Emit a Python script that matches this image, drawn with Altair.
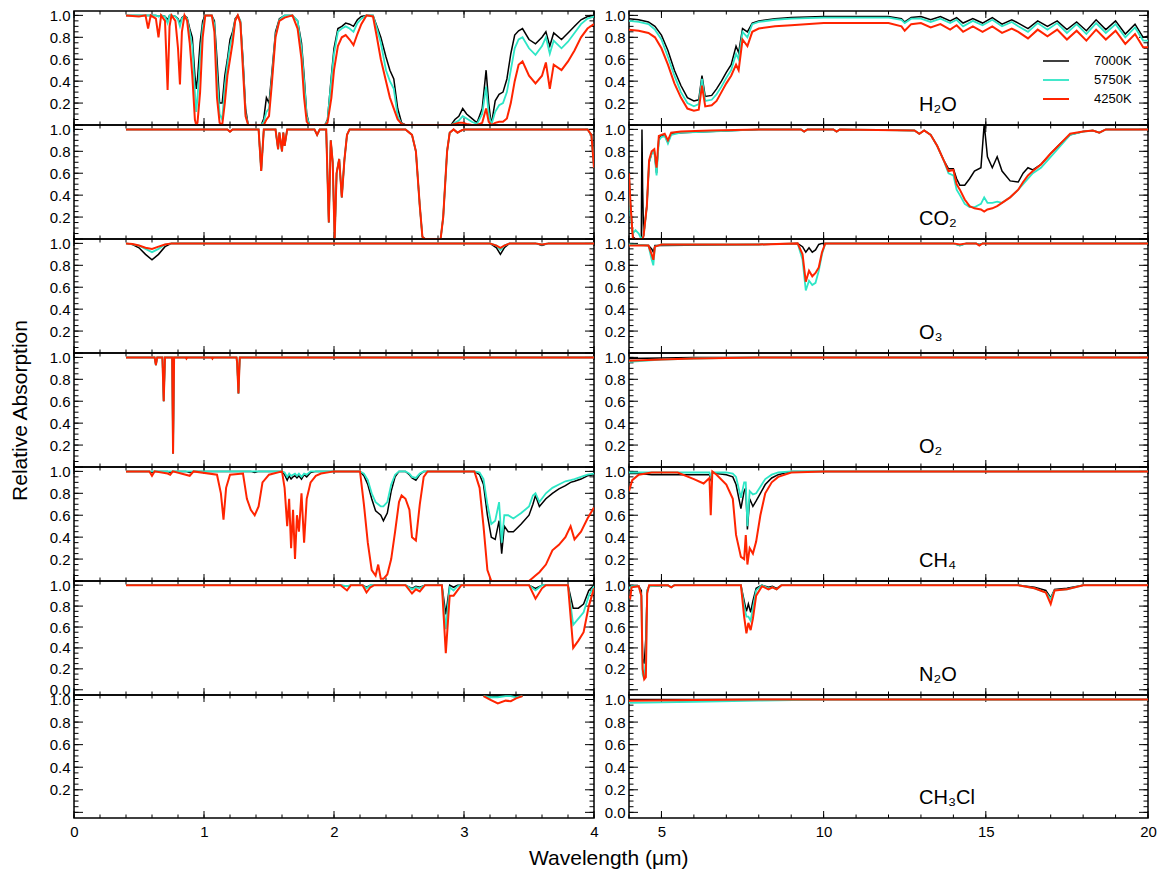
import altair as alt
import numpy as np
import pandas as pd

FONT = "Liberation Sans"
SERIES = ["7000K", "5750K", "4250K"]
COLORS = ["#000000", "#2ee6c6", "#ff2400"]
WIDTHS = [1.5, 1.8, 2.0]
MOLECULES = ["H₂O", "CO₂", "O₃", "O₂", "CH₄", "N₂O", "CH₃Cl"]

# Rows: wavelength (µm), 7000K, 5750K, 4250K
H2O_NEAR = [
    (0.40, 1.00, 1.00, 1.00), (0.50, 1.00, 1.00, 0.99), (0.55, 1.00, 1.00, 1.00),
    (0.57, 1.00, 1.00, 0.88), (0.59, 1.00, 1.00, 1.00), (0.63, 1.00, 1.00, 0.97),
    (0.65, 0.99, 0.99, 0.80), (0.67, 1.00, 1.00, 1.00), (0.70, 0.99, 0.99, 0.95),
    (0.72, 0.96, 0.93, 0.32), (0.735, 1.00, 1.00, 0.90), (0.75, 1.00, 1.00, 1.00),
    (0.78, 0.99, 0.99, 0.95), (0.80, 0.97, 0.96, 0.70), (0.815, 0.93, 0.90, 0.37),
    (0.83, 0.98, 0.97, 0.85), (0.85, 1.00, 1.00, 1.00), (0.87, 0.98, 0.97, 0.95),
    (0.89, 0.88, 0.85, 0.75), (0.91, 0.80, 0.72, 0.45), (0.93, 0.45, 0.30, 0.05),
    (0.94, 0.33, 0.12, 0.00), (0.95, 0.42, 0.25, 0.02), (0.97, 0.75, 0.60, 0.30),
    (0.99, 0.95, 0.90, 0.80), (1.01, 1.00, 1.00, 1.00), (1.06, 1.00, 1.00, 1.00),
    (1.08, 0.95, 0.92, 0.85), (1.10, 0.60, 0.45, 0.25), (1.12, 0.20, 0.10, 0.02),
    (1.14, 0.20, 0.05, 0.00), (1.16, 0.45, 0.35, 0.20), (1.18, 0.60, 0.55, 0.45),
    (1.20, 0.78, 0.72, 0.60), (1.22, 0.85, 0.82, 0.75), (1.24, 0.97, 0.96, 0.95),
    (1.26, 1.00, 1.00, 1.00), (1.28, 0.95, 0.95, 0.93), (1.30, 0.60, 0.55, 0.50),
    (1.32, 0.15, 0.10, 0.08), (1.34, 0.00, 0.00, 0.00), (1.44, 0.00, 0.00, 0.00),
    (1.46, 0.06, 0.03, 0.00), (1.48, 0.25, 0.12, 0.05), (1.50, 0.20, 0.15, 0.08),
    (1.52, 0.45, 0.40, 0.35), (1.55, 0.85, 0.82, 0.80), (1.58, 0.97, 0.96, 0.95),
    (1.62, 1.00, 1.00, 0.98), (1.68, 1.00, 1.00, 1.00), (1.72, 0.95, 0.95, 0.88),
    (1.75, 0.75, 0.70, 0.60), (1.77, 0.45, 0.40, 0.25), (1.79, 0.10, 0.08, 0.03),
    (1.81, 0.00, 0.00, 0.00), (1.93, 0.00, 0.00, 0.00), (1.95, 0.05, 0.04, 0.02),
    (1.98, 0.45, 0.42, 0.25), (2.00, 0.70, 0.65, 0.50), (2.03, 0.88, 0.85, 0.72),
    (2.06, 0.90, 0.88, 0.80), (2.09, 0.93, 0.90, 0.82), (2.12, 0.92, 0.88, 0.78),
    (2.15, 0.90, 0.85, 0.73), (2.18, 0.96, 0.93, 0.83), (2.21, 0.99, 0.97, 0.92),
    (2.25, 1.00, 1.00, 1.00), (2.30, 1.00, 1.00, 0.99), (2.33, 0.90, 0.88, 0.80),
    (2.36, 0.80, 0.75, 0.60), (2.40, 0.62, 0.50, 0.40), (2.43, 0.50, 0.40, 0.25),
    (2.46, 0.42, 0.33, 0.15), (2.49, 0.15, 0.08, 0.05), (2.52, 0.02, 0.01, 0.01),
    (2.55, 0.00, 0.00, 0.00), (2.90, 0.00, 0.00, 0.00), (2.93, 0.05, 0.02, 0.01),
    (2.96, 0.08, 0.04, 0.02), (2.99, 0.15, 0.08, 0.02), (3.02, 0.10, 0.06, 0.01),
    (3.06, 0.06, 0.03, 0.00), (3.10, 0.02, 0.01, 0.00), (3.14, 0.15, 0.10, 0.02),
    (3.17, 0.50, 0.35, 0.15), (3.19, 0.20, 0.10, 0.03), (3.21, 0.00, 0.00, 0.00),
    (3.24, 0.22, 0.12, 0.02), (3.27, 0.28, 0.18, 0.03), (3.30, 0.30, 0.20, 0.03),
    (3.33, 0.42, 0.30, 0.06), (3.36, 0.65, 0.50, 0.20), (3.39, 0.82, 0.70, 0.40),
    (3.42, 0.86, 0.78, 0.55), (3.45, 0.88, 0.80, 0.58), (3.50, 0.78, 0.70, 0.45),
    (3.55, 0.74, 0.64, 0.38), (3.60, 0.80, 0.72, 0.45), (3.63, 0.85, 0.80, 0.57),
    (3.66, 0.72, 0.65, 0.33), (3.69, 0.84, 0.77, 0.55), (3.75, 0.78, 0.70, 0.50),
    (3.80, 0.84, 0.76, 0.58), (3.85, 0.90, 0.84, 0.68), (3.90, 0.96, 0.92, 0.80),
    (3.95, 0.99, 0.97, 0.88), (4.00, 1.00, 0.99, 0.92),
]
H2O_MID = [
    (4.0, 0.97, 0.95, 0.87), (4.3, 0.96, 0.94, 0.86), (4.6, 0.94, 0.92, 0.84),
    (4.8, 0.90, 0.87, 0.80), (5.0, 0.82, 0.78, 0.70), (5.2, 0.68, 0.62, 0.55),
    (5.4, 0.50, 0.45, 0.38), (5.6, 0.36, 0.30, 0.25), (5.8, 0.25, 0.20, 0.15),
    (6.0, 0.22, 0.17, 0.13), (6.15, 0.23, 0.19, 0.14), (6.25, 0.45, 0.42, 0.36),
    (6.35, 0.26, 0.22, 0.17), (6.55, 0.27, 0.23, 0.18), (6.7, 0.33, 0.28, 0.22),
    (6.85, 0.40, 0.35, 0.30), (7.0, 0.48, 0.43, 0.38), (7.15, 0.55, 0.50, 0.45),
    (7.3, 0.72, 0.65, 0.55), (7.38, 0.66, 0.60, 0.50), (7.5, 0.88, 0.85, 0.78),
    (7.65, 0.85, 0.80, 0.72), (7.8, 0.93, 0.92, 0.85), (8.0, 0.95, 0.94, 0.88),
    (8.5, 0.97, 0.96, 0.90), (9.0, 0.98, 0.97, 0.91), (10.0, 0.99, 0.98, 0.93),
    (11.0, 0.99, 0.98, 0.93), (12.0, 0.99, 0.98, 0.93), (12.4, 0.97, 0.96, 0.90),
    (12.5, 0.94, 0.93, 0.86), (12.7, 0.98, 0.97, 0.92), (13.0, 0.99, 0.97, 0.93),
    (13.3, 0.96, 0.94, 0.89), (13.6, 0.99, 0.97, 0.92), (13.9, 0.95, 0.93, 0.87),
    (14.1, 0.98, 0.96, 0.91), (14.3, 0.93, 0.90, 0.85), (14.6, 0.97, 0.95, 0.90),
    (14.9, 0.93, 0.91, 0.85), (15.2, 0.98, 0.96, 0.90), (15.5, 0.92, 0.90, 0.84),
    (15.8, 0.96, 0.94, 0.88), (16.0, 0.93, 0.90, 0.85), (16.3, 0.88, 0.85, 0.79),
    (16.6, 0.95, 0.93, 0.87), (16.9, 0.90, 0.87, 0.81), (17.2, 0.95, 0.93, 0.87),
    (17.5, 0.87, 0.84, 0.78), (17.8, 0.94, 0.92, 0.86), (18.1, 0.86, 0.83, 0.77),
    (18.4, 0.96, 0.93, 0.87), (18.7, 0.87, 0.84, 0.78), (19.0, 0.95, 0.92, 0.86),
    (19.3, 0.83, 0.80, 0.74), (19.6, 0.92, 0.89, 0.83), (19.85, 0.80, 0.77, 0.71),
    (20.0, 0.81, 0.77, 0.71),
]
CO2_NEAR = [
    (0.40, 1.00, 1.00, 1.00), (1.18, 1.00, 1.00, 1.00), (1.20, 0.98, 0.98, 0.98),
    (1.22, 1.00, 1.00, 1.00), (1.42, 1.00, 1.00, 1.00), (1.44, 0.62, 0.62, 0.62),
    (1.46, 1.00, 1.00, 1.00), (1.55, 1.00, 1.00, 1.00), (1.57, 0.82, 0.82, 0.82),
    (1.58, 0.97, 0.97, 0.97), (1.60, 0.80, 0.80, 0.80), (1.61, 0.97, 0.97, 0.97),
    (1.62, 0.85, 0.85, 0.85), (1.64, 1.00, 1.00, 1.00), (1.85, 1.00, 1.00, 1.00),
    (1.87, 0.95, 0.95, 0.95), (1.89, 1.00, 1.00, 1.00), (1.94, 1.00, 1.00, 1.00),
    (1.96, 0.15, 0.15, 0.15), (1.975, 0.90, 0.90, 0.90), (1.99, 0.70, 0.70, 0.70),
    (2.005, 0.00, 0.00, 0.00), (2.02, 0.60, 0.60, 0.60), (2.04, 0.73, 0.73, 0.73),
    (2.06, 0.38, 0.38, 0.38), (2.08, 0.72, 0.72, 0.72), (2.10, 0.95, 0.95, 0.95),
    (2.12, 1.00, 1.00, 1.00), (2.55, 1.00, 1.00, 1.00), (2.60, 0.95, 0.95, 0.95),
    (2.63, 0.80, 0.80, 0.80), (2.66, 0.30, 0.30, 0.30), (2.68, 0.02, 0.02, 0.02),
    (2.70, 0.00, 0.00, 0.00), (2.82, 0.00, 0.00, 0.00), (2.84, 0.20, 0.20, 0.20),
    (2.87, 0.80, 0.80, 0.80), (2.89, 0.97, 0.97, 0.97), (2.92, 1.00, 1.00, 1.00),
    (2.95, 0.97, 0.97, 0.97), (2.98, 0.99, 0.99, 0.99), (3.00, 1.00, 1.00, 1.00),
    (3.95, 1.00, 1.00, 1.00), (3.98, 0.95, 0.95, 0.95), (4.00, 0.65, 0.65, 0.65),
]
CO2_MID = [
    (4.00, 0.60, 0.55, 0.60), (4.05, 0.30, 0.20, 0.30), (4.12, 0.02, 0.05, 0.00),
    (4.20, 0.00, 0.08, 0.00), (4.30, 0.00, 0.05, 0.00), (4.38, 0.00, 0.00, 0.00),
    (4.40, 1.00, 0.00, 0.00), (4.42, 0.47, 0.02, 0.00), (4.45, 0.03, 0.03, 0.03),
    (4.55, 0.30, 0.30, 0.30), (4.62, 0.70, 0.70, 0.72), (4.70, 0.78, 0.78, 0.80),
    (4.78, 0.80, 0.80, 0.82), (4.85, 0.60, 0.58, 0.65), (4.92, 0.92, 0.90, 0.94),
    (5.00, 0.94, 0.93, 0.95), (5.10, 0.95, 0.94, 0.96), (5.20, 0.88, 0.87, 0.90),
    (5.30, 0.96, 0.95, 0.97), (5.60, 0.97, 0.97, 0.98), (6.50, 0.98, 0.98, 0.99),
    (8.00, 1.00, 1.00, 1.00), (9.30, 1.00, 1.00, 1.00), (9.40, 0.98, 0.98, 0.98),
    (9.50, 1.00, 1.00, 1.00), (10.3, 1.00, 1.00, 1.00), (10.4, 0.98, 0.98, 0.98),
    (10.5, 1.00, 1.00, 1.00), (12.8, 0.99, 0.99, 0.99), (12.95, 0.96, 0.96, 0.96),
    (13.1, 0.99, 0.99, 0.99), (13.3, 0.95, 0.95, 0.95), (13.5, 0.85, 0.85, 0.85),
    (13.7, 0.72, 0.72, 0.72), (13.85, 0.64, 0.60, 0.62), (14.0, 0.64, 0.58, 0.63),
    (14.1, 0.55, 0.45, 0.50), (14.2, 0.49, 0.40, 0.45), (14.35, 0.49, 0.32, 0.36),
    (14.5, 0.55, 0.29, 0.30), (14.65, 0.62, 0.29, 0.28), (14.85, 0.65, 0.32, 0.27),
    (14.95, 1.05, 0.38, 0.25), (15.05, 0.75, 0.33, 0.27), (15.2, 0.65, 0.33, 0.28),
    (15.35, 0.75, 0.34, 0.30), (15.5, 0.62, 0.33, 0.33), (15.75, 0.53, 0.38, 0.38),
    (16.0, 0.52, 0.45, 0.45), (16.15, 0.60, 0.50, 0.52), (16.3, 0.65, 0.55, 0.58),
    (16.45, 0.63, 0.60, 0.62), (16.7, 0.68, 0.65, 0.68), (17.0, 0.78, 0.75, 0.78),
    (17.3, 0.87, 0.85, 0.87), (17.6, 0.95, 0.95, 0.96), (18.0, 0.98, 0.98, 0.98),
    (18.3, 0.99, 0.99, 0.99), (18.5, 0.97, 0.97, 0.97), (18.7, 1.00, 1.00, 1.00),
    (20.0, 1.00, 1.00, 1.00),
]
O3_NEAR = [
    (0.40, 1.00, 1.00, 1.00), (0.45, 0.99, 0.99, 0.995), (0.50, 0.96, 0.98, 0.98),
    (0.55, 0.90, 0.95, 0.96), (0.60, 0.85, 0.92, 0.95), (0.65, 0.90, 0.95, 0.97),
    (0.70, 0.97, 0.99, 0.99), (0.75, 1.00, 1.00, 1.00), (3.20, 1.00, 1.00, 1.00),
    (3.25, 0.96, 0.98, 0.98), (3.28, 0.90, 0.94, 0.96), (3.31, 0.96, 0.98, 0.98),
    (3.35, 1.00, 1.00, 1.00), (3.55, 1.00, 1.00, 1.00), (3.60, 0.98, 0.99, 0.99),
    (3.65, 1.00, 1.00, 1.00), (4.00, 1.00, 1.00, 1.00),
]
O3_MID = [
    (4.0, 0.99, 0.99, 0.98), (4.6, 0.98, 0.98, 0.98), (4.7, 0.95, 0.85, 0.90),
    (4.75, 0.92, 0.80, 0.85), (4.8, 0.98, 0.97, 0.97), (5.0, 0.98, 0.99, 0.99),
    (8.0, 0.99, 0.99, 0.99), (9.2, 1.00, 1.00, 1.00), (9.35, 0.97, 0.85, 0.90),
    (9.45, 0.92, 0.57, 0.65), (9.55, 0.96, 0.66, 0.75), (9.65, 0.92, 0.62, 0.70),
    (9.75, 0.94, 0.64, 0.73), (9.85, 0.99, 0.75, 0.78), (9.95, 1.00, 0.90, 0.92),
    (10.05, 1.00, 1.00, 1.00), (14.0, 1.00, 1.00, 1.00), (14.2, 0.98, 0.98, 0.99),
    (14.4, 1.00, 1.00, 1.00), (14.7, 1.00, 1.00, 1.00), (14.8, 0.99, 0.985, 0.98),
    (14.9, 1.00, 1.00, 1.00), (20.0, 1.00, 1.00, 1.00),
]
O2_NEAR = [
    (0.40, 1.00, 1.00, 1.00), (0.62, 1.00, 1.00, 1.00), (0.63, 0.93, 0.93, 0.93),
    (0.64, 1.00, 1.00, 1.00), (0.68, 1.00, 1.00, 1.00), (0.69, 0.60, 0.60, 0.60),
    (0.70, 1.00, 1.00, 1.00), (0.755, 1.00, 1.00, 1.00), (0.762, 0.12, 0.12, 0.12),
    (0.77, 1.00, 1.00, 1.00), (0.86, 1.00, 1.00, 1.00), (0.865, 0.99, 0.99, 0.99),
    (0.87, 1.00, 1.00, 1.00), (1.06, 1.00, 1.00, 1.00), (1.065, 0.99, 0.99, 0.99),
    (1.07, 1.00, 1.00, 1.00), (1.25, 1.00, 1.00, 1.00), (1.255, 0.95, 0.95, 0.95),
    (1.265, 0.67, 0.67, 0.67), (1.275, 1.00, 1.00, 1.00), (4.00, 1.00, 1.00, 1.00),
]
O2_MID = [
    (4.0, 0.99, 0.96, 0.97), (5.0, 0.995, 0.98, 0.98), (6.0, 1.00, 0.99, 0.99),
    (8.0, 1.00, 1.00, 1.00), (20.0, 1.00, 1.00, 1.00),
]
CH4_NEAR = [
    (0.40, 1.00, 1.00, 1.00), (0.58, 1.00, 1.00, 1.00), (0.60, 0.99, 1.00, 0.96),
    (0.62, 1.00, 1.00, 1.00), (0.72, 1.00, 1.00, 0.98), (0.74, 0.99, 1.00, 0.97),
    (0.76, 1.00, 1.00, 1.00), (0.86, 1.00, 1.00, 0.97), (0.89, 0.99, 1.00, 0.96),
    (0.92, 1.00, 1.00, 1.00), (1.10, 1.00, 1.00, 0.97), (1.13, 1.00, 1.00, 0.80),
    (1.15, 1.00, 1.00, 0.56), (1.17, 1.00, 1.00, 0.85), (1.20, 1.00, 1.00, 0.97),
    (1.30, 1.00, 1.00, 0.98), (1.33, 1.00, 1.00, 0.75), (1.36, 1.00, 1.00, 0.65),
    (1.39, 0.99, 1.00, 0.60), (1.42, 1.00, 1.00, 0.68), (1.45, 1.00, 1.00, 0.90),
    (1.50, 1.00, 1.00, 0.97), (1.60, 1.00, 1.00, 1.00), (1.62, 0.97, 0.99, 0.85),
    (1.64, 0.92, 0.95, 0.50), (1.655, 0.96, 0.98, 0.75), (1.67, 0.93, 0.96, 0.30),
    (1.685, 0.95, 0.97, 0.65), (1.70, 0.96, 0.98, 0.20), (1.715, 0.94, 0.96, 0.60),
    (1.73, 0.96, 0.98, 0.45), (1.75, 0.93, 0.95, 0.80), (1.77, 0.97, 0.98, 0.35),
    (1.79, 0.95, 0.97, 0.75), (1.82, 0.99, 1.00, 0.90), (1.86, 1.00, 1.00, 0.96),
    (1.90, 1.00, 1.00, 0.98), (2.00, 1.00, 1.00, 1.00), (2.20, 1.00, 1.00, 1.00),
    (2.23, 0.96, 0.98, 0.70), (2.26, 0.88, 0.92, 0.35), (2.29, 0.75, 0.80, 0.10),
    (2.32, 0.64, 0.72, 0.05), (2.34, 0.62, 0.70, 0.15), (2.36, 0.60, 0.68, 0.02),
    (2.38, 0.55, 0.68, 0.02), (2.41, 0.62, 0.72, 0.06), (2.44, 0.82, 0.88, 0.20),
    (2.47, 0.95, 0.97, 0.45), (2.50, 1.00, 1.00, 0.72), (2.52, 1.00, 1.00, 0.78),
    (2.55, 1.00, 1.00, 0.75), (2.58, 0.97, 0.98, 0.65), (2.60, 0.94, 0.95, 0.40),
    (2.63, 0.92, 0.94, 0.37), (2.66, 0.97, 0.98, 0.70), (2.69, 1.00, 1.00, 0.95),
    (2.72, 1.00, 1.00, 1.00), (3.08, 1.00, 1.00, 1.00), (3.12, 0.97, 0.99, 0.85),
    (3.15, 0.88, 0.93, 0.50), (3.18, 0.60, 0.70, 0.10), (3.21, 0.40, 0.52, 0.00),
    (3.24, 0.38, 0.55, 0.00), (3.27, 0.55, 0.72, 0.00), (3.29, 0.25, 0.35, 0.00),
    (3.31, 0.50, 0.60, 0.00), (3.34, 0.45, 0.60, 0.00), (3.38, 0.45, 0.57, 0.00),
    (3.44, 0.52, 0.62, 0.00), (3.50, 0.60, 0.68, 0.00), (3.53, 0.70, 0.78, 0.03),
    (3.55, 0.78, 0.80, 0.05), (3.58, 0.68, 0.72, 0.08), (3.63, 0.75, 0.80, 0.15),
    (3.68, 0.80, 0.85, 0.28), (3.73, 0.84, 0.88, 0.33), (3.78, 0.87, 0.91, 0.40),
    (3.82, 0.90, 0.92, 0.50), (3.85, 0.91, 0.93, 0.38), (3.90, 0.93, 0.95, 0.45),
    (3.95, 0.96, 0.97, 0.57), (4.00, 0.97, 0.98, 0.67),
]
CH4_MID = [
    (4.0, 0.98, 0.99, 0.82), (4.1, 0.98, 0.99, 0.92), (4.3, 0.98, 0.99, 0.97),
    (4.7, 0.97, 0.99, 0.99), (5.5, 0.97, 0.99, 0.99), (6.0, 0.97, 0.99, 0.93),
    (6.3, 0.97, 0.99, 0.89), (6.48, 0.97, 0.99, 0.94), (6.52, 0.93, 0.95, 0.60),
    (6.57, 0.99, 0.99, 1.00), (6.7, 0.98, 0.99, 0.97), (7.0, 0.97, 0.99, 0.88),
    (7.2, 0.95, 0.98, 0.75), (7.3, 0.88, 0.95, 0.42), (7.45, 0.66, 0.76, 0.22),
    (7.55, 0.82, 0.90, 0.20), (7.6, 0.85, 0.90, 0.42), (7.65, 0.47, 0.50, 0.15),
    (7.72, 0.75, 0.82, 0.30), (7.82, 0.68, 0.79, 0.25), (7.92, 0.73, 0.80, 0.36),
    (8.05, 0.80, 0.86, 0.60), (8.2, 0.88, 0.93, 0.80), (8.4, 0.94, 0.97, 0.90),
    (8.6, 0.97, 0.99, 0.95), (9.0, 1.00, 1.00, 0.99), (10.0, 1.00, 1.00, 1.00),
    (20.0, 1.00, 1.00, 1.00),
]
N2O_NEAR = [
    (0.40, 1.00, 1.00, 1.00), (2.05, 1.00, 1.00, 1.00), (2.10, 0.99, 0.99, 0.95),
    (2.13, 1.00, 1.00, 1.00), (2.22, 1.00, 1.00, 1.00), (2.25, 0.98, 0.97, 0.93),
    (2.28, 1.00, 1.00, 0.98), (2.31, 1.00, 1.00, 1.00), (2.55, 1.00, 1.00, 1.00),
    (2.60, 0.97, 0.96, 0.92), (2.63, 0.99, 0.98, 0.96), (2.66, 0.98, 0.97, 0.94),
    (2.70, 1.00, 1.00, 1.00), (2.83, 1.00, 1.00, 1.00), (2.86, 0.72, 0.58, 0.35),
    (2.89, 1.00, 0.98, 0.90), (2.92, 0.98, 0.95, 0.90), (2.95, 1.00, 0.99, 0.95),
    (2.98, 1.00, 1.00, 1.00), (3.50, 1.00, 1.00, 1.00), (3.55, 0.97, 0.95, 0.87),
    (3.60, 1.00, 1.00, 0.97), (3.63, 1.00, 1.00, 1.00), (3.80, 1.00, 1.00, 1.00),
    (3.84, 0.78, 0.62, 0.40), (3.88, 0.78, 0.68, 0.47), (3.92, 0.82, 0.74, 0.55),
    (3.96, 0.95, 0.90, 0.80), (4.00, 1.00, 0.99, 0.97),
]
N2O_MID = [
    (4.0, 0.97, 0.98, 0.90), (4.04, 0.98, 0.97, 0.88), (4.08, 0.99, 0.99, 0.98),
    (4.3, 0.99, 0.99, 0.99), (4.38, 0.95, 0.90, 0.90), (4.42, 0.30, 0.15, 0.20),
    (4.47, 0.25, 0.10, 0.10), (4.52, 0.50, 0.30, 0.12), (4.56, 0.95, 0.95, 0.92),
    (4.62, 0.99, 0.99, 1.00), (5.2, 1.00, 1.00, 1.00), (5.3, 0.98, 0.98, 0.98),
    (5.4, 1.00, 1.00, 1.00), (7.45, 1.00, 1.00, 1.00), (7.55, 0.85, 0.80, 0.70),
    (7.62, 0.75, 0.70, 0.54), (7.68, 0.82, 0.70, 0.64), (7.75, 0.74, 0.66, 0.57),
    (7.82, 0.85, 0.78, 0.68), (7.92, 0.97, 0.95, 0.90), (8.1, 1.00, 1.00, 0.99),
    (8.3, 0.98, 0.97, 0.96), (8.42, 0.99, 0.98, 0.98), (8.55, 0.97, 0.96, 0.96),
    (8.7, 1.00, 1.00, 1.00), (16.0, 1.00, 1.00, 1.00), (16.5, 0.98, 0.97, 0.97),
    (16.85, 0.95, 0.93, 0.93), (17.0, 0.88, 0.87, 0.82), (17.12, 0.96, 0.95, 0.95),
    (17.5, 0.97, 0.96, 0.96), (18.0, 1.00, 1.00, 1.00), (20.0, 1.00, 1.00, 1.00),
]
CH3CL_NEAR = [
    (3.15, 1.03, 1.03, 1.03), (3.20, 1.02, 1.02, 1.00), (3.26, 1.03, 1.02, 0.965),
    (3.32, 1.03, 1.03, 0.99), (3.36, 1.03, 1.03, 0.985), (3.40, 1.03, 1.02, 1.01),
    (3.45, 1.03, 1.03, 1.03),
]
CH3CL_MID = [
    (4.0, 1.00, 0.97, 0.99), (6.0, 1.00, 0.98, 0.995), (8.0, 1.00, 0.99, 1.00),
    (10.0, 1.00, 1.00, 1.00), (20.0, 1.00, 1.00, 1.00),
]

NEAR_ROWS = [H2O_NEAR, CO2_NEAR, O3_NEAR, O2_NEAR, CH4_NEAR, N2O_NEAR, CH3CL_NEAR]
MID_ROWS = [H2O_MID, CO2_MID, O3_MID, O2_MID, CH4_MID, N2O_MID, CH3CL_MID]

# Axis tick positions
X_NEAR_MAJOR = [0, 1, 2, 3, 4]
X_NEAR_MINOR = [round(v, 1) for v in np.arange(0.0, 4.01, 0.2)]
X_MID_MAJOR = [5, 10, 15, 20]
X_MID_MINOR = list(range(4, 21))
Y_MAJOR = [0.0, 0.2, 0.4, 0.6, 0.8, 1.0]
Y_MINOR = [round(v, 2) for v in np.arange(0.0, 1.001, 0.05)]

NEAR_W, MID_W = 520, 519
PANEL_H, LAST_H = 114, 123


def panel(rows, i, near):
    width = NEAR_W if near else MID_W
    height = LAST_H if i == 6 else PANEL_H
    ydom = [-0.05, 1.04] if i >= 5 else [0.0, 1.04]
    xs = alt.Scale(domain=[0, 4] if near else [4, 20], nice=False, zero=False)
    ys = alt.Scale(domain=ydom, nice=False, zero=False)

    if i == 6:
        xaxis = alt.Axis(values=X_NEAR_MAJOR if near else X_MID_MAJOR, format="d",
                         labelFlush=False, title=None, labelPadding=6)
    else:
        xaxis = None
    ylabels = [0.2, 0.4, 0.6, 0.8, 1.0]
    if (near and i == 5) or (not near and i == 6):
        ylabels = [0.0] + ylabels
    if near and i == 3:
        yaxis = alt.Axis(values=ylabels, format=".1f", labelFlush=False,
                         title="Relative Absorption", titlePadding=19)
    else:
        yaxis = alt.Axis(values=ylabels, format=".1f", labelFlush=False, title=None)

    def X(f):
        return alt.X(f, type="quantitative", scale=xs, axis=xaxis)

    def Y(f):
        return alt.Y(f, type="quantitative", scale=ys, axis=yaxis)

    layers = []
    # inward ticks on all four sides
    for vals, size in ((Y_MAJOR, 9), (Y_MINOR, 4.5)):
        d = pd.DataFrame({"t": vals})
        layers.append(alt.Chart(d).mark_rule(color="black", strokeWidth=1).encode(
            y=Y("t"), x=alt.value(0), x2=alt.value(size)))
        layers.append(alt.Chart(d).mark_rule(color="black", strokeWidth=1).encode(
            y=Y("t"), x=alt.value(width), x2=alt.value(width - size)))
    xmaj = X_NEAR_MAJOR if near else X_MID_MAJOR
    xmin = X_NEAR_MINOR if near else X_MID_MINOR
    for vals, size in ((xmaj, 7), (xmin, 3.5)):
        d = pd.DataFrame({"t": vals})
        layers.append(alt.Chart(d).mark_rule(color="black", strokeWidth=1).encode(
            x=X("t"), y=alt.value(0), y2=alt.value(size)))
        layers.append(alt.Chart(d).mark_rule(color="black", strokeWidth=1).encode(
            x=X("t"), y=alt.value(height), y2=alt.value(height - size)))

    # spectra, drawn hottest star first so the cooler ones sit on top
    for k, (s, c, w) in enumerate(zip(SERIES, COLORS, WIDTHS)):
        d = pd.DataFrame({"wl": [r[0] for r in rows], "v": [r[k + 1] for r in rows]})
        layers.append(alt.Chart(d).mark_line(color=c, strokeWidth=w, clip=True).encode(
            x=X("wl"), y=Y("v")))

    if not near:
        lab = pd.DataFrame({"m": [MOLECULES[i]]})
        layers.append(alt.Chart(lab).mark_text(
            align="left", baseline="alphabetic", font=FONT, fontSize=20, color="black"
        ).encode(text="m:N", x=alt.value(290), y=alt.value(height - 14)))
        if i == 0:
            for k, (s, c, w) in enumerate(zip(SERIES, COLORS, WIDTHS)):
                d = pd.DataFrame({"s": [s]})
                yy = 50 + 19 * k
                layers.append(alt.Chart(d).mark_rule(color=c, strokeWidth=w).encode(
                    x=alt.value(414), x2=alt.value(440), y=alt.value(yy)))
                layers.append(alt.Chart(d).mark_text(
                    align="left", baseline="middle", font=FONT, fontSize=13, color="black"
                ).encode(text="s:N", x=alt.value(465), y=alt.value(yy)))

    return alt.layer(*layers).properties(width=width, height=height)


# interleave so the grid reads row by row: near-IR panel, then mid-IR panel
cells = []
for i in range(7):
    cells.append(panel(NEAR_ROWS[i], i, True))
    cells.append(panel(MID_ROWS[i], i, False))

chart = alt.concat(
    *cells, columns=2, spacing={"row": 0, "column": 35}, bounds="flush"
).properties(
    title=alt.TitleParams("Wavelength (μm)", orient="bottom", anchor="middle",
                          font=FONT, fontSize=21, fontWeight="normal", color="black",
                          dx=26, offset=8),
    padding={"left": 8, "top": 7, "right": 5, "bottom": 5},
    background="white",
).configure_view(
    stroke="black", strokeWidth=1.5
).configure_axis(
    labelFont=FONT, labelFontSize=15, labelColor="black",
    titleFont=FONT, titleFontSize=21, titleFontWeight="normal", titleColor="black",
    ticks=False, domain=False, grid=False, labelPadding=4,
)

chart.save("out.html", embed_options={"renderer": "svg", "actions": False})
